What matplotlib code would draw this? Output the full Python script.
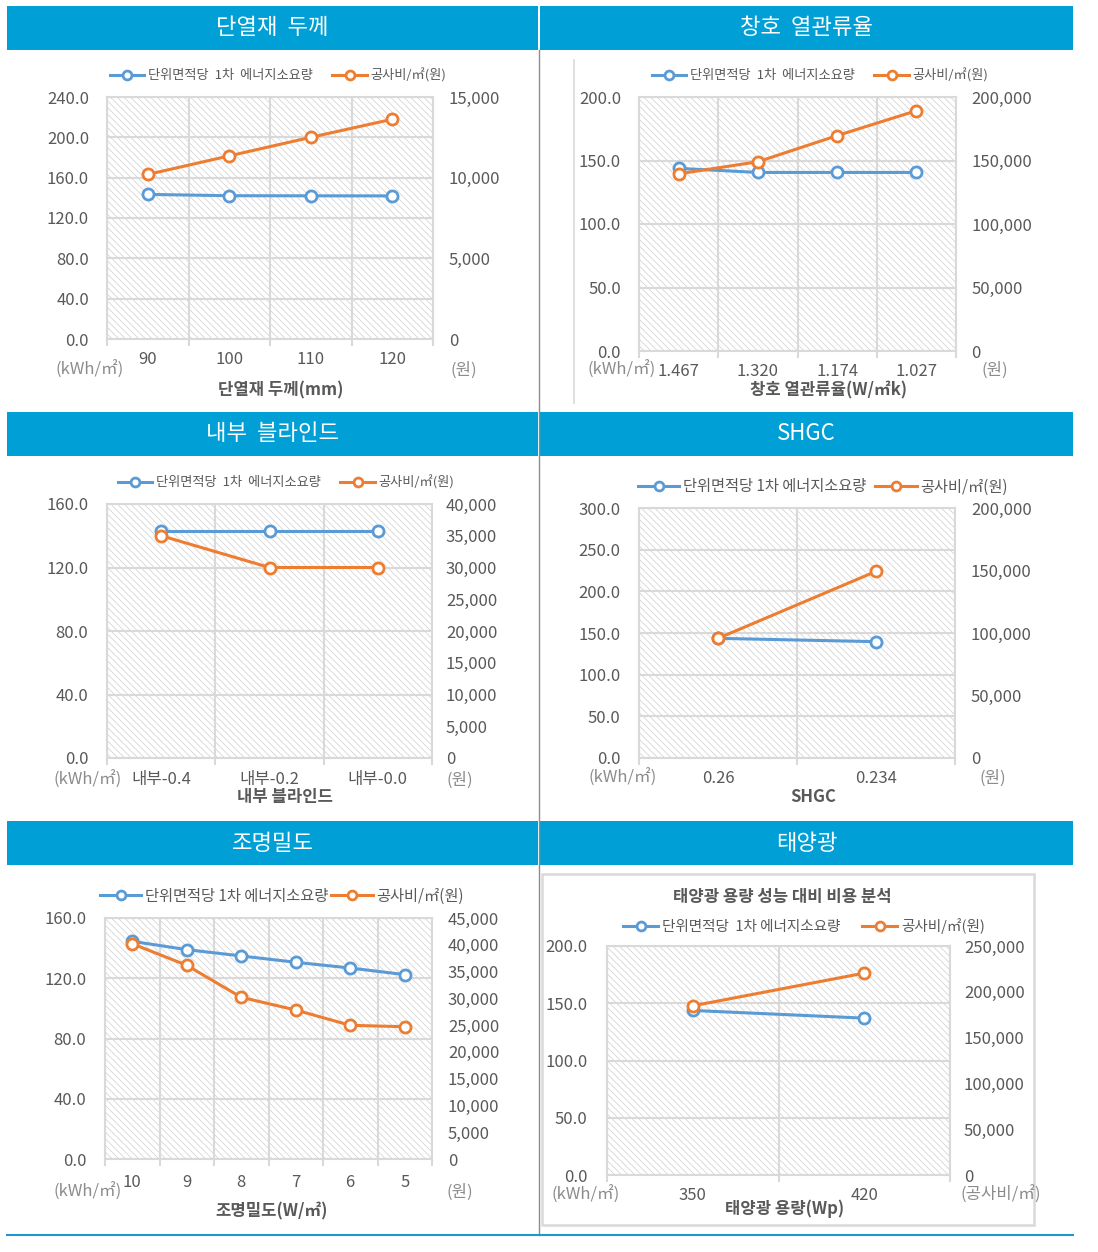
import matplotlib
matplotlib.use("Agg")
import matplotlib.pyplot as plt
from matplotlib.patches import Rectangle
from matplotlib.lines import Line2D
from matplotlib.ticker import FuncFormatter, MultipleLocator, FixedLocator

plt.rcParams['font.family'] = ['Noto Sans CJK KR', 'DejaVu Sans']
plt.rcParams['hatch.linewidth'] = 0.5

# ---- data ----
thick_cats = ["90", "100", "110", "120"]
thick_energy = [143.4, 142.1, 142.0, 141.9]
thick_cost = [10200, 11350, 12500, 13620]

win_cats = ["1.467", "1.320", "1.174", "1.027"]
win_energy = [143.8, 140.6, 140.6, 140.6]
win_cost = [139500, 149000, 169600, 189200]

blind_cats = ["내부-0.4", "내부-0.2", "내부-0.0"]
blind_energy = [142.8, 142.8, 142.8]
blind_cost = [35000, 30000, 30000]

shgc_cats = ["0.26", "0.234"]
shgc_energy = [143.6, 139.6]
shgc_cost = [95700, 149300]

light_cats = ["10", "9", "8", "7", "6", "5"]
light_energy = [144.5, 139.0, 134.8, 130.6, 126.8, 122.4]
light_cost = [40200, 36160, 30190, 27820, 24960, 24700]

pv_cats = ["350", "420"]
pv_energy = [143.7, 137.0]
pv_cost = [184700, 220400]

BLUE = "#5B9BD5"
ORANGE = "#ED7D31"
HEAD = "#00A0D6"
TXT = "#595959"
GRID = "#D9D9D9"

W, H = 1098, 1252
fig = plt.figure(figsize=(W / 100, H / 100), dpi=100)


def fx(px):
    return px / W


def fy(py):
    return 1 - py / H


def header(x0, x1, y0, y1, title):
    fig.patches.append(Rectangle((fx(x0), fy(y1)), fx(x1 - x0), (y1 - y0) / H,
                                 transform=fig.transFigure, facecolor=HEAD,
                                 edgecolor="none"))
    fig.text(fx((x0 + x1) / 2), fy((y0 + y1) / 2), title, color="white",
             fontsize=16, ha="center", va="center")


def panel(box, cats, energy, cost, lmax, lstep, rmax, rstep, lpad, rpad, xpad,
          leg, xlabel, xlab_pos, unit_l, unit_r, rlabel="(원)"):
    x0, y0, x1, y1 = box
    ax = fig.add_axes([fx(x0), fy(y1), (x1 - x0) / W, (y1 - y0) / H])
    # hatched plot area like the Excel pattern fill
    ax.add_patch(Rectangle((0, 0), 1, 1, transform=ax.transAxes, facecolor="white",
                           edgecolor="#CFCFCF", hatch="\\\\\\\\\\", linewidth=0, zorder=0))
    n = len(cats)
    xs = list(range(n))
    ax.set_xlim(-0.5, n - 0.5)
    ax.set_ylim(0, lmax)
    ax.yaxis.set_major_locator(MultipleLocator(lstep))
    ax.yaxis.set_major_formatter(FuncFormatter(lambda v, p: f"{v:.1f}"))
    ax.set_xticks(xs)
    ax.set_xticklabels(cats)
    ax.xaxis.set_minor_locator(FixedLocator([i - 0.5 for i in range(n + 1)]))
    ax.tick_params(axis="x", which="major", length=0, pad=xpad, labelsize=12,
                   labelcolor=TXT)
    ax.tick_params(axis="x", which="minor", length=5, color=GRID, width=1.5)
    ax.tick_params(axis="y", length=0, pad=lpad, labelsize=12, labelcolor=TXT)
    ax.grid(axis="y", which="major", color=GRID, linewidth=1.5)
    ax.grid(axis="x", which="minor", color=GRID, linewidth=1.5)
    ax.set_axisbelow(True)
    for s in ax.spines.values():
        s.set_color(GRID)
        s.set_linewidth(1.5)

    ax2 = ax.twinx()
    ax2.set_ylim(0, rmax)
    ax2.yaxis.set_major_locator(MultipleLocator(rstep))
    ax2.yaxis.set_major_formatter(FuncFormatter(lambda v, p: f"{int(v):,}"))
    ax2.tick_params(axis="y", length=0, pad=rpad, labelsize=12, labelcolor=TXT)
    for s in ax2.spines.values():
        s.set_visible(False)

    l1, = ax.plot(xs, energy, color=BLUE, lw=2.2, marker="o", ms=8,
                  mfc="white", mec=BLUE, mew=2, zorder=3)
    l2, = ax2.plot(xs, cost, color=ORANGE, lw=2.2, marker="o", ms=8,
                   mfc="white", mec=ORANGE, mew=2, zorder=3)

    lab1, lcx, lcy, lfs, hl, cs = leg
    ax2.legend([l1, l2], [lab1, "공사비/㎡(원)"], loc="center",
               bbox_to_anchor=(fx(lcx), fy(lcy)), bbox_transform=fig.transFigure,
               ncol=2, frameon=False, fontsize=lfs, handlelength=hl,
               handletextpad=0.25, columnspacing=cs, labelcolor=TXT,
               borderpad=0, borderaxespad=0, markerscale=0.8)

    fig.text(fx(xlab_pos[0]), fy(xlab_pos[1]), xlabel, fontsize=12,
             fontweight="bold", color=TXT, ha="center", va="center")
    fig.text(fx(unit_l[0]), fy(unit_l[1]), "(kWh/㎡)", fontsize=12,
             color="#8C8C8C", ha="center", va="center")
    fig.text(fx(unit_r[0]), fy(unit_r[1]), rlabel, fontsize=12,
             color="#8C8C8C", ha="center", va="center")
    return ax


# headers
header(7, 538, 6, 50, "단열재  두께")
header(540, 1073, 6, 50, "창호  열관류율")
header(7, 538, 412, 456, "내부  블라인드")
header(540, 1073, 412, 456, "SHGC")
header(7, 538, 821, 865, "조명밀도")
header(540, 1073, 821, 865, "태양광")

# separators / frames
fig.lines.append(Line2D([fx(539), fx(539)], [fy(50), fy(1235)],
                        transform=fig.transFigure, color="#8C8C8C", lw=1))
fig.lines.append(Line2D([fx(7), fx(1073)], [fy(1235), fy(1235)],
                        transform=fig.transFigure, color="#1A9BD0", lw=1.5))
fig.lines.append(Line2D([fx(574), fx(574)], [fy(60), fy(403)],
                        transform=fig.transFigure, color=GRID, lw=1.2))
fig.patches.append(Rectangle((fx(542), fy(1225)), fx(1034 - 542), (1225 - 874) / H,
                             transform=fig.transFigure, facecolor="none",
                             edgecolor=GRID, lw=1.8))
fig.text(fx(782), fy(897), "태양광 용량 성능 대비 비용 분석", fontsize=12,
         fontweight="bold", color=TXT, ha="center", va="center")

LAB_WIDE = "단위면적당  1차  에너지소요량"

panel((107, 97, 433, 339), thick_cats, thick_energy, thick_cost, 240, 40, 15000, 5000,
      13, 11.5, 9, (LAB_WIDE, 278, 75, 9.5, 2.6, 1.5),
      "단열재 두께(mm)", (281, 390), (90, 370), (464, 370))

panel((639, 97, 956, 351), win_cats, win_energy, win_cost, 200, 50, 200000, 50000,
      13, 11, 8.5, (LAB_WIDE, 820, 75, 9.5, 2.6, 1.5),
      "창호 열관류율(W/㎡k)", (828, 390), (622, 370), (995, 370))

panel((107, 504, 432, 758), blind_cats, blind_energy, blind_cost, 160, 40, 40000, 5000,
      13.5, 10, 9.5, (LAB_WIDE, 286, 482, 9.5, 2.6, 1.5),
      "내부 블라인드", (285, 797), (88, 780), (460, 780))

panel((639, 508, 955, 758), shgc_cats, shgc_energy, shgc_cost, 300, 50, 200000, 50000,
      13.5, 11.5, 8.5, ("단위면적당 1차 에너지소요량", 823, 487, 11, 2.7, 0.6),
      "SHGC", (813, 797), (623, 778), (993, 778))

panel((105, 918, 432, 1159), light_cats, light_energy, light_cost, 160, 40, 45000, 5000,
      13.5, 11.5, 11, ("단위면적당 1차 에너지소요량", 282, 896, 11, 2.7, 0.2),
      "조명밀도(W/㎡)", (272, 1211), (88, 1192), (460, 1192))

panel((607, 946, 950, 1175), pv_cats, pv_energy, pv_cost, 200, 50, 250000, 50000,
      14, 10, 8.5, ("단위면적당  1차 에너지소요량", 804, 926, 10.5, 2.4, 1.5),
      "태양광 용량(Wp)", (785, 1209), (586, 1195), (1001, 1195), rlabel="(공사비/㎡)")

fig.savefig("out.png", dpi=100)
